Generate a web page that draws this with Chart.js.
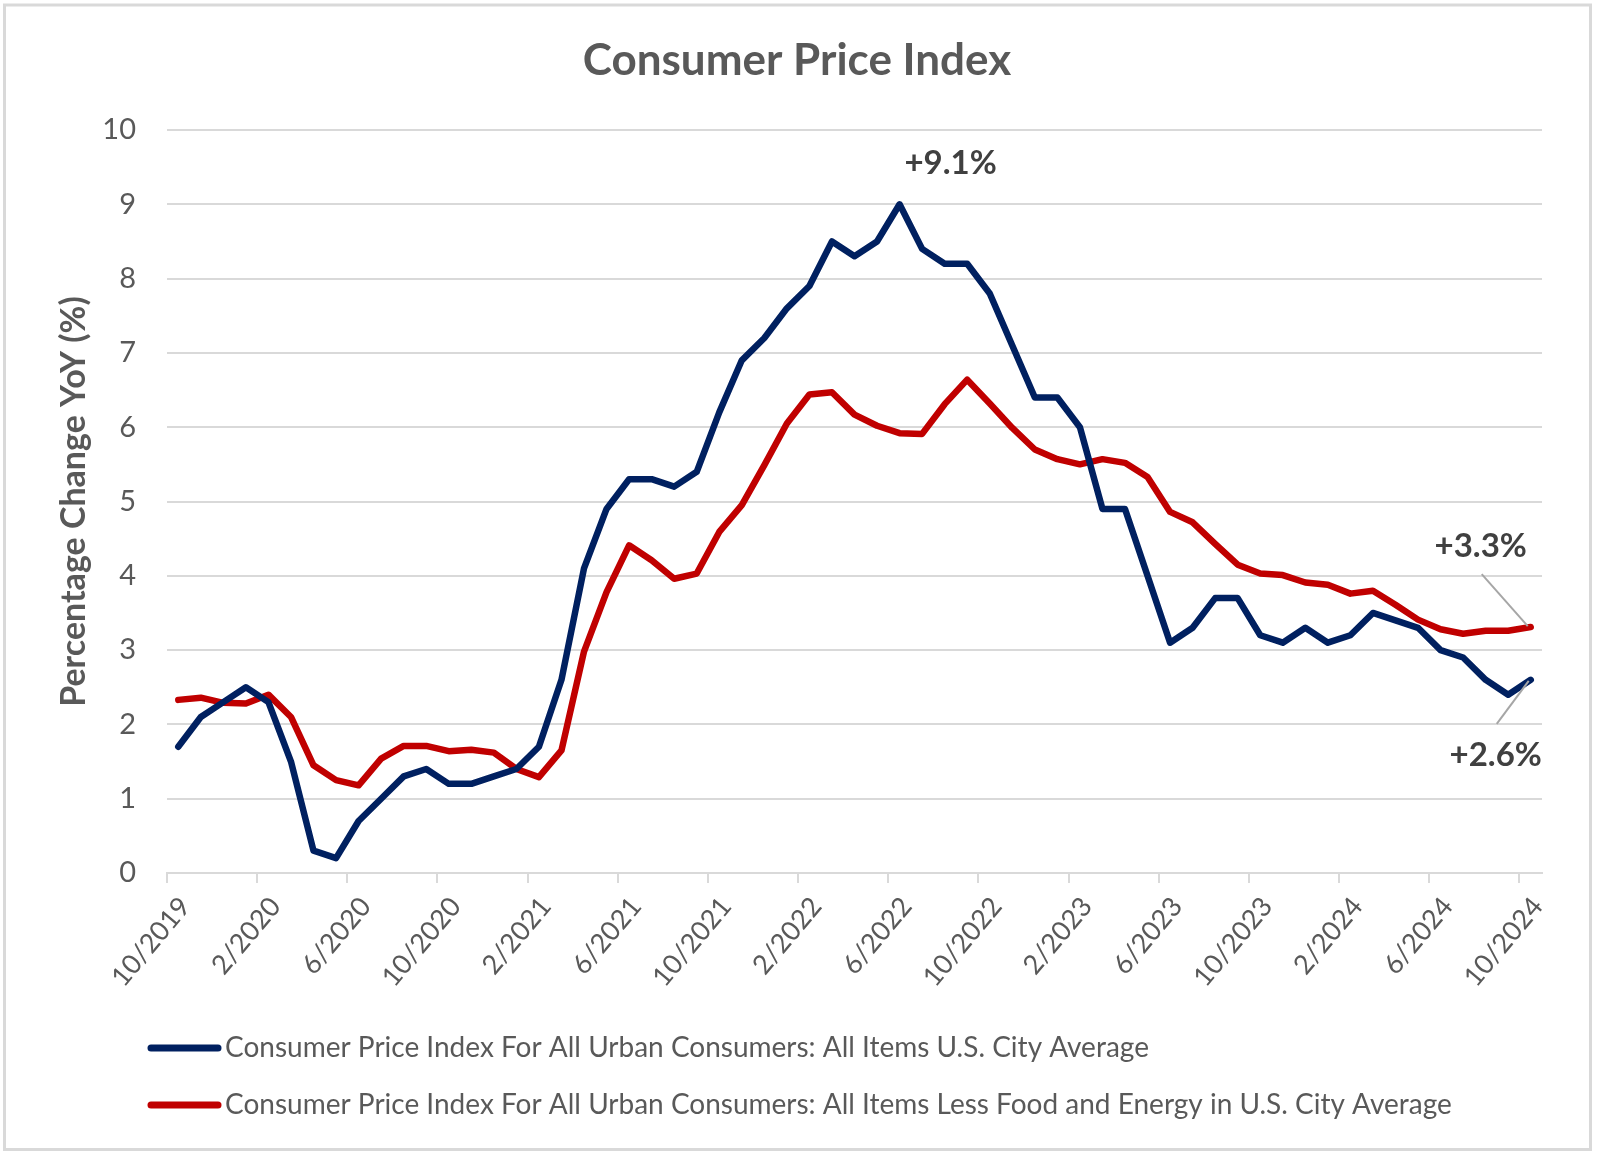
<!DOCTYPE html>
<html>
<head>
<meta charset="utf-8">
<script src="https://cdn.jsdelivr.net/npm/chart.js@4.4.1/dist/chart.umd.min.js"></script>
<style>
  html, body { margin: 0; padding: 0; background: #ffffff; }
  .chart { position: relative; width: 1598px; height: 1158px; }
</style>
</head>
<body>
<div class="chart"><canvas id="cpi-chart"></canvas></div>
<script>
// months shown on the category axis
const gMonths = [
  '10/2019', '11/2019', '12/2019',
  '1/2020', '2/2020', '3/2020', '4/2020', '5/2020', '6/2020', '7/2020', '8/2020', '9/2020', '10/2020', '11/2020', '12/2020',
  '1/2021', '2/2021', '3/2021', '4/2021', '5/2021', '6/2021', '7/2021', '8/2021', '9/2021', '10/2021', '11/2021', '12/2021',
  '1/2022', '2/2022', '3/2022', '4/2022', '5/2022', '6/2022', '7/2022', '8/2022', '9/2022', '10/2022', '11/2022', '12/2022',
  '1/2023', '2/2023', '3/2023', '4/2023', '5/2023', '6/2023', '7/2023', '8/2023', '9/2023', '10/2023', '11/2023', '12/2023',
  '1/2024', '2/2024', '3/2024', '4/2024', '5/2024', '6/2024', '7/2024', '8/2024', '9/2024', '10/2024',
];

// CPI all items, YoY %
const gCpiAll = [
  1.7, 2.1, 2.3,
  2.5, 2.3, 1.5, 0.3, 0.2, 0.7, 1.0, 1.3, 1.4, 1.2, 1.2, 1.3,
  1.4, 1.7, 2.6, 4.1, 4.9, 5.3, 5.3, 5.2, 5.4, 6.2, 6.9, 7.2,
  7.6, 7.9, 8.5, 8.3, 8.5, 9.0, 8.4, 8.2, 8.2, 7.8, 7.1, 6.4,
  6.4, 6.0, 4.9, 4.9, 4.0, 3.1, 3.3, 3.7, 3.7, 3.2, 3.1, 3.3,
  3.1, 3.2, 3.5, 3.4, 3.3, 3.0, 2.9, 2.6, 2.4, 2.6,
];

// CPI less food and energy, YoY %
const gCpiCore = [
  2.33, 2.36, 2.29,
  2.28, 2.40, 2.10, 1.45, 1.25, 1.18, 1.54, 1.71, 1.71, 1.64, 1.66, 1.62,
  1.40, 1.29, 1.65, 2.98, 3.78, 4.41, 4.21, 3.96, 4.03, 4.59, 4.95, 5.49,
  6.05, 6.44, 6.47, 6.17, 6.02, 5.92, 5.91, 6.31, 6.64, 6.32, 5.99, 5.70,
  5.57, 5.50, 5.57, 5.52, 5.33, 4.86, 4.72, 4.43, 4.15, 4.03, 4.01, 3.91,
  3.88, 3.76, 3.80, 3.61, 3.41, 3.28, 3.22, 3.26, 3.26, 3.31,
];

const gSeriesNames = [
  'Consumer Price Index For All Urban Consumers: All Items U.S. City Average',
  'Consumer Price Index For All Urban Consumers: All Items Less Food and Energy in U.S. City Average',
];

const gYTicks = [0, 1, 2, 3, 4, 5, 6, 7, 8, 9, 10];

// callouts: text, month index, series index
const gCalloutText = ['+9.1%', '+3.3%', '+2.6%'];
const gCalloutIndex = [32, 60, 60];
const gCalloutSeries = [0, 1, 0];

const G_TITLE = 'Consumer Price Index';
const G_FONT = 'Lato';
const G_TEXT_COLOR = '#595959';
const G_GRID_COLOR = '#d9d9d9';
const G_COLORS = ['#002060', '#c00000'];

// draw frame, title, legend and callouts
const gDecorPlugin = {
  id: 'decor',
  afterDraw(chart) {
    const vCtx = chart.ctx;
    vCtx.save();

    // outer frame
    vCtx.strokeStyle = G_GRID_COLOR;
    vCtx.lineWidth = 3;
    vCtx.strokeRect(4.5, 5, 1586, 1144.5);

    // title, centred on the page
    vCtx.fillStyle = G_TEXT_COLOR;
    vCtx.font = `bold 44px ${G_FONT}`;
    vCtx.textAlign = 'center';
    vCtx.textBaseline = 'middle';
    vCtx.fillText(G_TITLE, 797, 61);

    // legend
    const vRows = [1048, 1105];
    chart.data.datasets.forEach((dataset, i) => {
      vCtx.strokeStyle = dataset.borderColor;
      vCtx.lineWidth = 7;
      vCtx.lineCap = 'round';
      vCtx.beginPath();
      vCtx.moveTo(151, vRows[i]);
      vCtx.lineTo(218, vRows[i]);
      vCtx.stroke();
      vCtx.fillStyle = G_TEXT_COLOR;
      vCtx.font = `28px ${G_FONT}`;
      vCtx.textAlign = 'left';
      vCtx.textBaseline = 'middle';
      vCtx.fillText(dataset.label, 225, vRows[i]);
    });

    // callouts
    const vXScale = chart.scales.x;
    const vYScale = chart.scales.y;
    const vLabelOffsets = [[51, -41], [-50, -81], [-35, 76]];
    const vLeaders = [null, [[-3, -1], [-49, -53]], [[-2, 1], [-34, 44]]];
    gCalloutText.forEach((text, i) => {
      const vValue = chart.data.datasets[gCalloutSeries[i]].data[gCalloutIndex[i]];
      const vPx = vXScale.getPixelForValue(gCalloutIndex[i]);
      const vPy = vYScale.getPixelForValue(vValue);
      if (vLeaders[i]) {
        vCtx.strokeStyle = '#a6a6a6';
        vCtx.lineWidth = 2;
        vCtx.lineCap = 'butt';
        vCtx.beginPath();
        vCtx.moveTo(vPx + vLeaders[i][0][0], vPy + vLeaders[i][0][1]);
        vCtx.lineTo(vPx + vLeaders[i][1][0], vPy + vLeaders[i][1][1]);
        vCtx.stroke();
      }
      vCtx.fillStyle = '#404040';
      vCtx.font = `bold 33px ${G_FONT}`;
      vCtx.textAlign = 'center';
      vCtx.textBaseline = 'middle';
      vCtx.fillText(text, vPx + vLabelOffsets[i][0], vPy + vLabelOffsets[i][1]);
    });

    vCtx.restore();
  },
};

// render chart
function renderChart() {
  let vCanvas = document.getElementById('cpi-chart').getContext('2d');

  let vData = {
    labels: gMonths,
    datasets: [
      {
        label: gSeriesNames[0],
        data: gCpiAll,
        borderColor: G_COLORS[0],
        backgroundColor: G_COLORS[0],
        borderWidth: 6.5,
        pointRadius: 0,
        tension: 0,
        borderJoinStyle: 'round',
        borderCapStyle: 'round',
      },
      {
        label: gSeriesNames[1],
        data: gCpiCore,
        borderColor: G_COLORS[1],
        backgroundColor: G_COLORS[1],
        borderWidth: 6.5,
        pointRadius: 0,
        tension: 0,
        borderJoinStyle: 'round',
        borderCapStyle: 'round',
      },
    ],
  };
  // draw red behind blue like the original
  vData.datasets[0].order = 0;
  vData.datasets[1].order = 1;

  let vOptions = {
    responsive: true,
    maintainAspectRatio: false,
    animation: false,
    layout: { padding: { top: 130, left: 0, right: 56, bottom: 145 } },
    plugins: {
      legend: { display: false },
      tooltip: { enabled: false },
      title: { display: false },
    },
    scales: {
      x: {
        offset: true,
        grid: {
          offset: true,
          drawOnChartArea: false,
          drawTicks: true,
          tickLength: 10,
          lineWidth: 2,
          color: (ctx) => (ctx.index % 4 === 0 ? G_GRID_COLOR : 'rgba(0,0,0,0)'),
        },
        border: { display: true, color: G_GRID_COLOR, width: 2 },
        ticks: {
          autoSkip: false,
          minRotation: 50,
          maxRotation: 50,
          padding: 8,
          labelOffset: 7,
          color: G_TEXT_COLOR,
          font: { family: G_FONT, size: 27 },
          callback: function (value, index) {
            return index % 4 === 0 ? this.getLabelForValue(value) : '';
          },
        },
        afterFit: (scale) => {
          scale.height = 140;
        },
      },
      y: {
        min: gYTicks[0],
        max: gYTicks[gYTicks.length - 1],
        afterBuildTicks: (scale) => {
          scale.ticks = gYTicks.map((v) => ({ value: v }));
        },
        grid: { color: G_GRID_COLOR, lineWidth: 2, drawTicks: false },
        border: { display: false },
        ticks: {
          padding: 31,
          color: G_TEXT_COLOR,
          font: { family: G_FONT, size: 29 },
        },
        title: {
          display: true,
          text: 'Percentage Change YoY (%)',
          color: G_TEXT_COLOR,
          font: { family: G_FONT, size: 34, weight: 'bold' },
          padding: 54,
        },
        afterFit: (scale) => {
          scale.width = 167;
        },
      },
    },
  };

  new Chart(vCanvas, {
    type: 'line',
    data: vData,
    options: vOptions,
    plugins: [gDecorPlugin],
  });
}

renderChart();
</script>
</body>
</html>
